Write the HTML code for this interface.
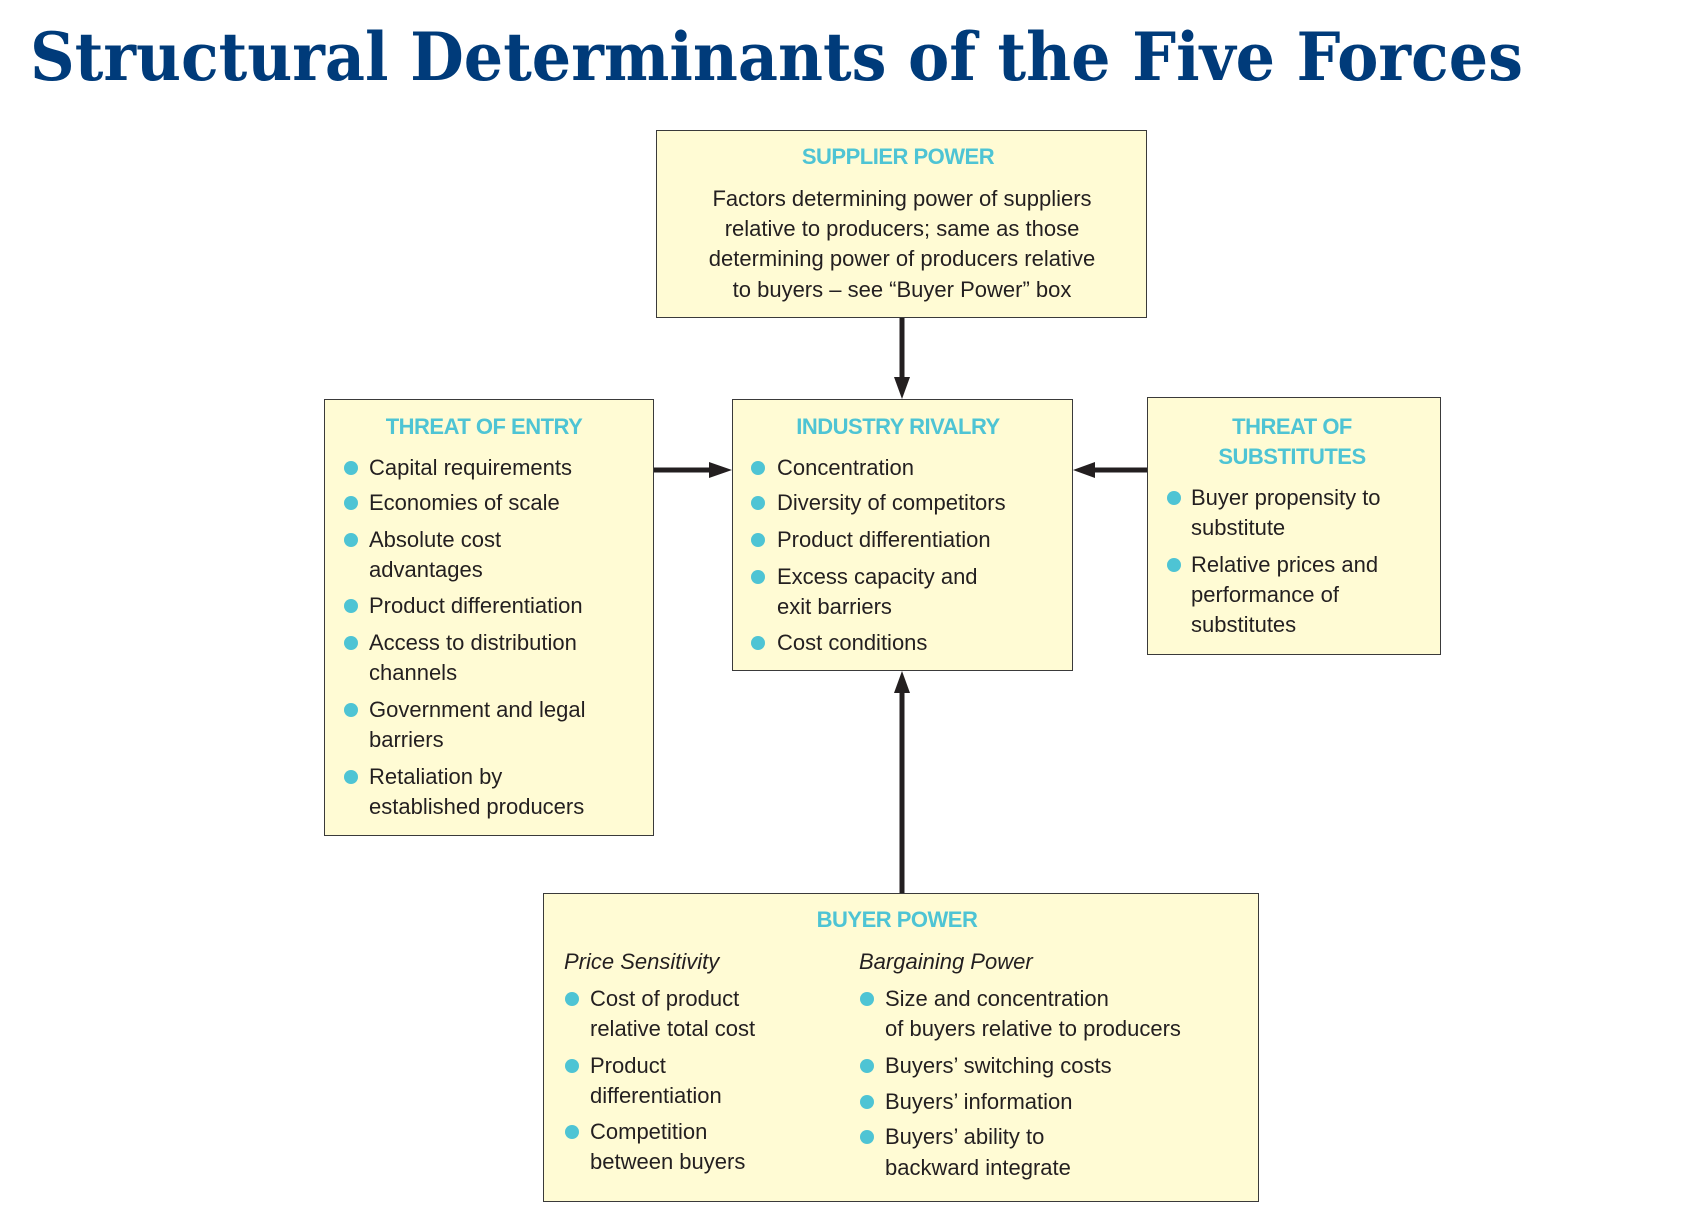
<!DOCTYPE html>
<html><head><meta charset="utf-8"><style>
body{margin:0;width:1686px;height:1206px;background:#fff;position:relative;overflow:hidden;font-family:"Liberation Sans",sans-serif;}
.box{position:absolute;background:#fffbd4;border:1.5px solid #3a3a3a;box-sizing:border-box;}
.t{position:absolute;font-size:22px;line-height:30px;color:#231f20;white-space:nowrap;}
.h{position:absolute;font-size:22px;line-height:30px;color:#4ec4d4;font-weight:bold;white-space:nowrap;transform:translateX(-50%);letter-spacing:-0.5px}
.c{transform:translateX(-50%);}
.b{position:absolute;width:14px;height:14px;border-radius:50%;background:#4ec4d4;}
.i{font-style:italic}
</style></head><body>
<svg width="1686" height="1206" style="position:absolute;left:0;top:0">
<text x="30" y="80" font-family="DejaVu Serif, Liberation Serif, serif" font-weight="bold" font-size="66" fill="#003b7a" textLength="1493" lengthAdjust="spacingAndGlyphs">Structural Determinants of the Five Forces</text>
</svg>
<div class="box" style="left:656px;top:130px;width:491px;height:188px"></div>
<div class="box" style="left:324px;top:399px;width:330px;height:437px"></div>
<div class="box" style="left:732px;top:399px;width:341px;height:272px"></div>
<div class="box" style="left:1147px;top:397px;width:294px;height:258px"></div>
<div class="box" style="left:543px;top:893px;width:716px;height:309px"></div>
<svg width="1686" height="1206" style="position:absolute;left:0;top:0">
<g stroke="#231f20" stroke-width="5" fill="#231f20">
<line x1="902" y1="318" x2="902" y2="384"/><path d="M894,377 L902,399 L910,377 Z" stroke="none"/>
<line x1="654" y1="470" x2="717" y2="470"/><path d="M709,462 L732,470 L709,478 Z" stroke="none"/>
<line x1="1147" y1="470" x2="1087" y2="470"/><path d="M1095,462 L1073,470 L1095,478 Z" stroke="none"/>
<line x1="902" y1="893" x2="902" y2="687"/><path d="M894,693 L902,671 L910,693 Z" stroke="none"/>
</g></svg>

<div class="h" style="left:898px;top:142px">SUPPLIER POWER</div>
<div class="t c" style="left:902px;top:184px">Factors determining power of suppliers</div>
<div class="t c" style="left:902px;top:214px">relative to producers; same as those</div>
<div class="t c" style="left:902px;top:244px">determining power of producers relative</div>
<div class="t c" style="left:902px;top:275px">to buyers – see “Buyer Power” box</div>

<div class="h" style="left:484px;top:412px">THREAT OF ENTRY</div>
<div class="b" style="left:344px;top:461px"></div><div class="t" style="left:369px;top:453px">Capital requirements</div>
<div class="b" style="left:344px;top:496px"></div><div class="t" style="left:369px;top:488px">Economies of scale</div>
<div class="b" style="left:344px;top:533px"></div><div class="t" style="left:369px;top:525px">Absolute cost</div>
<div class="t" style="left:369px;top:555px">advantages</div>
<div class="b" style="left:344px;top:599px"></div><div class="t" style="left:369px;top:591px">Product differentiation</div>
<div class="b" style="left:344px;top:636px"></div><div class="t" style="left:369px;top:628px">Access to distribution</div>
<div class="t" style="left:369px;top:658px">channels</div>
<div class="b" style="left:344px;top:703px"></div><div class="t" style="left:369px;top:695px">Government and legal</div>
<div class="t" style="left:369px;top:725px">barriers</div>
<div class="b" style="left:344px;top:770px"></div><div class="t" style="left:369px;top:762px">Retaliation by</div>
<div class="t" style="left:369px;top:792px">established producers</div>

<div class="h" style="left:898px;top:412px">INDUSTRY RIVALRY</div>
<div class="b" style="left:751px;top:461px"></div><div class="t" style="left:777px;top:453px">Concentration</div>
<div class="b" style="left:751px;top:496px"></div><div class="t" style="left:777px;top:488px">Diversity of competitors</div>
<div class="b" style="left:751px;top:533px"></div><div class="t" style="left:777px;top:525px">Product differentiation</div>
<div class="b" style="left:751px;top:570px"></div><div class="t" style="left:777px;top:562px">Excess capacity and</div>
<div class="t" style="left:777px;top:592px">exit barriers</div>
<div class="b" style="left:751px;top:636px"></div><div class="t" style="left:777px;top:628px">Cost conditions</div>

<div class="h" style="left:1292px;top:412px">THREAT OF</div>
<div class="h" style="left:1292px;top:442px">SUBSTITUTES</div>
<div class="b" style="left:1167px;top:491px"></div><div class="t" style="left:1191px;top:483px">Buyer propensity to</div>
<div class="t" style="left:1191px;top:513px">substitute</div>
<div class="b" style="left:1167px;top:558px"></div><div class="t" style="left:1191px;top:550px">Relative prices and</div>
<div class="t" style="left:1191px;top:580px">performance of</div>
<div class="t" style="left:1191px;top:610px">substitutes</div>

<div class="h" style="left:897px;top:905px">BUYER POWER</div>
<div class="t i" style="left:564px;top:947px">Price Sensitivity</div>
<div class="t i" style="left:859px;top:947px">Bargaining Power</div>
<div class="b" style="left:565px;top:992px"></div><div class="t" style="left:590px;top:984px">Cost of  product</div>
<div class="t" style="left:590px;top:1014px">relative total cost</div>
<div class="b" style="left:565px;top:1059px"></div><div class="t" style="left:590px;top:1051px">Product</div>
<div class="t" style="left:590px;top:1081px">differentiation</div>
<div class="b" style="left:565px;top:1125px"></div><div class="t" style="left:590px;top:1117px">Competition</div>
<div class="t" style="left:590px;top:1147px">between buyers</div>
<div class="b" style="left:860px;top:992px"></div><div class="t" style="left:885px;top:984px">Size and concentration</div>
<div class="t" style="left:885px;top:1014px">of buyers relative to  producers</div>
<div class="b" style="left:860px;top:1059px"></div><div class="t" style="left:885px;top:1051px">Buyers’ switching costs</div>
<div class="b" style="left:860px;top:1095px"></div><div class="t" style="left:885px;top:1087px">Buyers’ information</div>
<div class="b" style="left:860px;top:1130px"></div><div class="t" style="left:885px;top:1122px">Buyers’ ability to</div>
<div class="t" style="left:885px;top:1153px">backward integrate</div>
</body></html>
